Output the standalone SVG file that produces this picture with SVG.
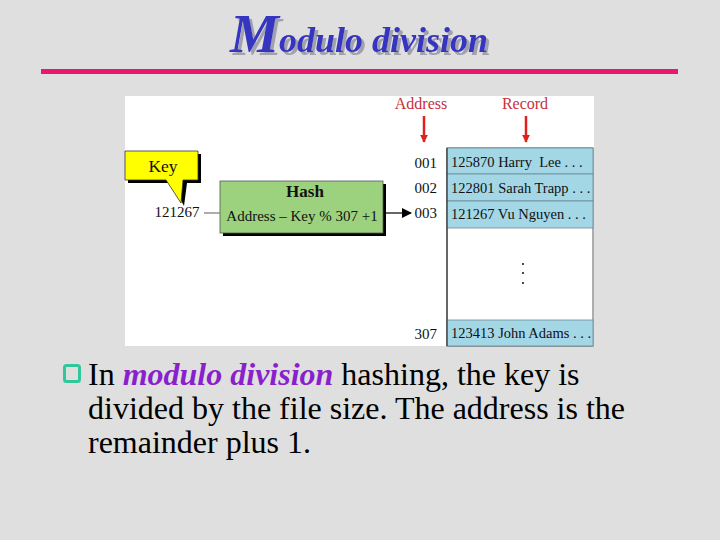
<svg xmlns="http://www.w3.org/2000/svg" width="720" height="540" viewBox="0 0 720 540">
<style>
text{font-family:"Liberation Serif","Times New Roman","DejaVu Serif",serif;}
.lbl{font-size:15px;fill:#111;}
.rec{font-size:14.5px;fill:#111;white-space:pre;}
.red{font-size:16px;fill:#C8303A;}
.row{fill:#A3D7E6;stroke:#6a8a94;stroke-width:0.8;}
.para{font-size:32px;fill:#000;}
</style>
<defs>
<filter id="sh" x="-5%" y="-20%" width="115%" height="150%">
<feOffset in="SourceAlpha" dx="2.5" dy="2.5" result="o"/>
<feFlood flood-color="#A0A0AE"/>
<feComposite in2="o" operator="in" result="s"/>
<feMerge><feMergeNode in="s"/><feMergeNode in="SourceGraphic"/></feMerge>
</filter>
<marker id="ra" viewBox="0 0 10 10" refX="9" refY="5" markerWidth="8" markerHeight="8" orient="auto" markerUnits="userSpaceOnUse">
<path d="M0,0 L10,5 L0,10 z" fill="#E0201C"/>
</marker>
<marker id="ba" viewBox="0 0 10 10" refX="9" refY="5" markerWidth="14" markerHeight="10" orient="auto" markerUnits="userSpaceOnUse">
<path d="M0,0 L10,5 L0,10 z" fill="#000"/>
</marker>
</defs>
<rect width="720" height="540" fill="#DFDFDF"/>
<g id="title">
<text x="230" y="52" font-style="italic" font-weight="bold" fill="#3535C0" filter="url(#sh)"><tspan font-size="55">M</tspan><tspan font-size="36">odulo division</tspan></text>
</g>
<rect x="41" y="69" width="637" height="5" fill="#E8196B"/>
<rect x="125" y="96" width="469" height="250" fill="#FFFFFF"/>
<g id="key">
<path d="M128,154 H201 V183 H187 L184,206 L172,183 H128 Z" fill="#000"/>
<path d="M125,151 H198 V180 H183 L181,203 L166,180 H125 Z" fill="#FFFF00" stroke="#333" stroke-width="0.8"/>
<text x="163" y="172" font-size="17.5" text-anchor="middle" fill="#111">Key</text>
</g>
<text class="lbl" x="177" y="217" text-anchor="middle" font-size="16.5">121267</text>
<g id="hash">
<rect x="223" y="184" width="163" height="52" fill="#000"/>
<rect x="220" y="181" width="163" height="52" fill="#9CD27E" stroke="#555" stroke-width="0.8"/>
<text x="305" y="197" font-size="17" font-weight="bold" text-anchor="middle" fill="#111">Hash</text>
<text class="lbl" x="302" y="221" text-anchor="middle" font-size="16">Address – Key % 307 +1</text>
</g>
<g id="connectors">
<line x1="204" y1="213" x2="220" y2="213" stroke="#777" stroke-width="1.2"/>
<line x1="386" y1="213" x2="411" y2="213" stroke="#000" stroke-width="1.2" marker-end="url(#ba)"/>
<line x1="424" y1="116" x2="424" y2="142" stroke="#E0201C" stroke-width="2.5" marker-end="url(#ra)"/>
<line x1="526" y1="116" x2="526" y2="142" stroke="#E0201C" stroke-width="2.5" marker-end="url(#ra)"/>
</g>
<text class="red" x="421" y="109" text-anchor="middle">Address</text>
<text class="red" x="525" y="109" text-anchor="middle">Record</text>
<g id="addresses">
<text class="lbl" x="437" y="168" text-anchor="end">001</text>
<text class="lbl" x="437" y="193" text-anchor="end">002</text>
<text class="lbl" x="437" y="218" text-anchor="end">003</text>
<text class="lbl" x="437" y="339" text-anchor="end">307</text>
</g>
<g id="table">
<rect x="447" y="148" width="146" height="198" fill="#FFFFFF" stroke="#333" stroke-width="0.8"/>
<rect class="row" x="447" y="148" width="146" height="26"/>
<rect class="row" x="447" y="174" width="146" height="27"/>
<rect class="row" x="447" y="201" width="146" height="27"/>
<rect class="row" x="447" y="320" width="146" height="26"/>
<line x1="447" y1="148" x2="447" y2="346" stroke="#222" stroke-width="1"/>
<text class="rec" x="451" y="167">125870 Harry  Lee . . .</text>
<text class="rec" x="451" y="193">122801 Sarah Trapp . . .</text>
<text class="rec" x="451" y="219">121267 Vu Nguyen . . .</text>
<text class="rec" x="451" y="338">123413 John Adams . . .</text>
<circle cx="523" cy="264" r="1" fill="#111"/>
<circle cx="523" cy="273" r="1" fill="#111"/>
<circle cx="523" cy="283" r="1" fill="#111"/>
</g>
<g id="body">
<rect x="64.5" y="365.5" width="15" height="16" rx="2" fill="none" stroke="#2EC89A" stroke-width="3"/>
<text class="para" x="88" y="385">In <tspan fill="#8A1FCC" font-weight="bold" font-style="italic">modulo division</tspan> hashing, the key is</text>
<text class="para" x="88" y="419">divided by the file size. The address is the</text>
<text class="para" x="88" y="453">remainder plus 1.</text>
</g>
</svg>
